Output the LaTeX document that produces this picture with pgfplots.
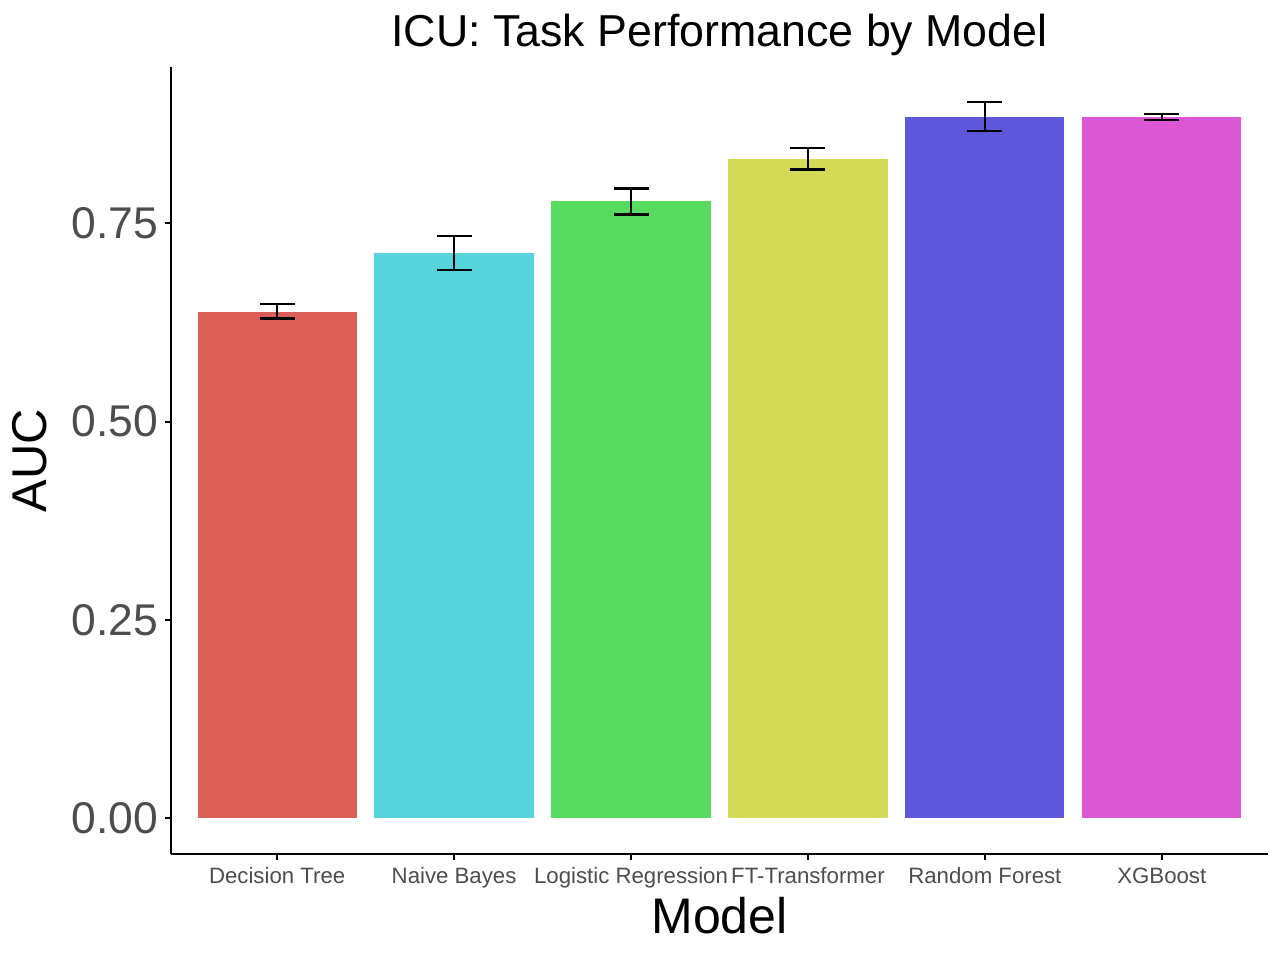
\documentclass[border=0pt]{standalone}
\usepackage{fontspec}
\setmainfont{Liberation Sans}
\usepackage{pgfplots}
\pgfplotsset{compat=1.18}

\definecolor{cDT}{HTML}{DB5F57}
\definecolor{cNB}{HTML}{57D3DB}
\definecolor{cLR}{HTML}{57DB5F}
\definecolor{cFT}{HTML}{D3DB57}
\definecolor{cRF}{HTML}{5F57DB}
\definecolor{cXG}{HTML}{DB57D3}
\definecolor{tickgrey}{HTML}{4D4D4D}

\begin{document}
\begin{tikzpicture}
% page = 1280x960 px at 0.36pt per px
\useasboundingbox (-61.56pt,-38.16pt) rectangle (399.24pt,307.44pt);
\begin{axis}[
    at={(0,0)}, anchor=south west,
    scale only axis,
    width=394.9pt, height=283.3pt,
    ybar, bar width=0.9, bar shift=0pt,
    xmin=0.4, xmax=6.6,
    ymin=-0.045, ymax=0.947,
    axis lines*=left,
    axis line style={-, line width=0.75pt, black},
    xtick={1,2,3,4,5,6},
    xticklabels={Decision Tree, Naive Bayes, Logistic Regression, FT-Transformer, Random Forest, XGBoost},
    ytick={0,0.25,0.5,0.75},
    /pgf/number format/fixed,
    /pgf/number format/fixed zerofill,
    /pgf/number format/precision=2,
    /pgf/number format/assume math mode=true,
    x tick label style={font=\fontsize{8}{9}\selectfont, text=tickgrey, text height=0.75em, text depth=0.22em, yshift=2.6pt},
    y tick label style={font=\fontsize{16}{17}\selectfont, text=tickgrey, xshift=1.1pt},
    tick style={black, line width=0.75pt},
    tick align=outside, major tick length=2.2pt,
    xlabel={Model}, ylabel={AUC},
    xlabel style={font=\fontsize{18}{20}\selectfont, yshift=4pt},
    ylabel style={font=\fontsize{17.6}{20}\selectfont, yshift=2pt},
    title={ICU: Task Performance by Model},
    title style={font=\fontsize{16.1}{18}\selectfont, yshift=-5.5pt},
    error bars/y dir=both, error bars/y explicit,
    error bars/error mark options={rotate=90, mark size=6.3pt, line width=0.85pt, black},
    error bars/error bar style={line width=0.85pt, black},
    clip=false,
]
\addplot[fill=cDT, draw=none] coordinates {(1,0.638) += (0,0.010) -= (0,0.008)};
\addplot[fill=cNB, draw=none] coordinates {(2,0.712) += (0,0.022) -= (0,0.021)};
\addplot[fill=cLR, draw=none] coordinates {(3,0.778) += (0,0.016) -= (0,0.017)};
\addplot[fill=cFT, draw=none] coordinates {(4,0.831) += (0,0.014) -= (0,0.013)};
\addplot[fill=cRF, draw=none] coordinates {(5,0.884) += (0,0.019) -= (0,0.018)};
\addplot[fill=cXG, draw=none] coordinates {(6,0.884) += (0,0.004) -= (0,0.004)};
\end{axis}
\end{tikzpicture}
\end{document}
